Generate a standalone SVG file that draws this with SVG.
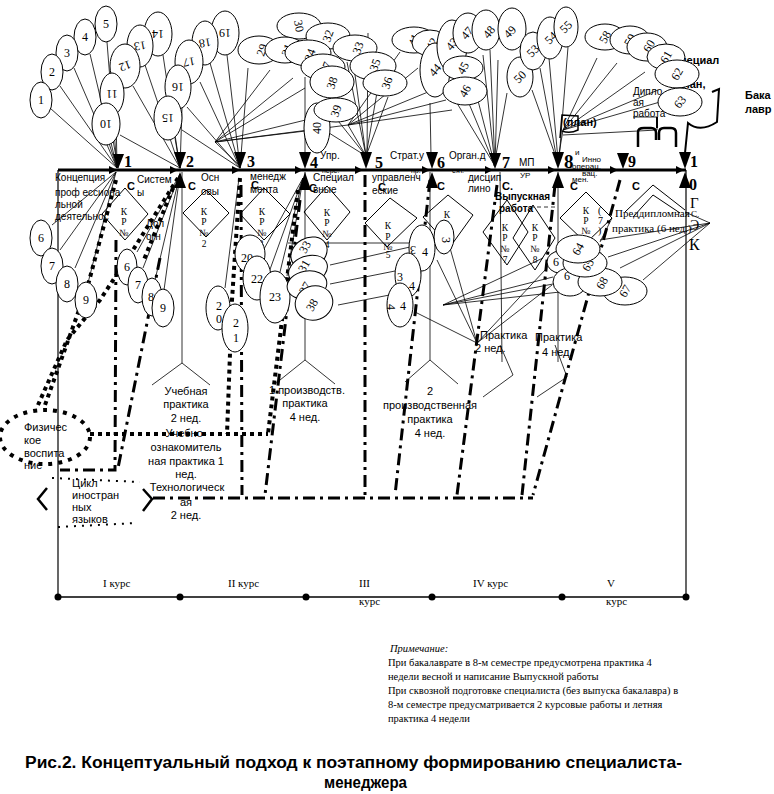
<svg xmlns="http://www.w3.org/2000/svg" width="774" height="794" viewBox="0 0 774 794">
<style>
.b{fill:#fff;stroke:#000;stroke-width:1}
.n{font-family:"Liberation Serif",serif;font-size:12px;text-anchor:middle}
.l{stroke:#000;stroke-width:0.8;fill:none}
.m{stroke:#000;stroke-width:3;fill:none}
.dd{stroke:#000;stroke-width:3;fill:none;stroke-dasharray:12 5 3 5}
.dt{stroke:#000;stroke-width:4;fill:none;stroke-dasharray:4 4}
.dh{stroke:#000;stroke-width:2;fill:none;stroke-dasharray:2 6}
.s{font-family:"Liberation Sans",Arial,sans-serif;font-size:10px}
.s8{font-family:"Liberation Sans",Arial,sans-serif;font-size:8px}
.k{font-family:"Liberation Serif",serif;font-size:9.5px;text-anchor:middle}
.mn{font-family:"Liberation Serif",serif;font-size:16px;font-weight:bold}
.bc{font-family:"Liberation Sans",Arial,sans-serif;font-size:11px;font-weight:bold}
.c{font-family:"Liberation Sans",Arial,sans-serif;font-size:11px;text-anchor:middle}
.nt{font-family:"Liberation Serif",serif;font-size:10.5px}
.dm{fill:none;stroke:#000;stroke-width:1}
.tri{fill:#000}
</style>
<rect width="774" height="794" fill="#fff"/>

<g id="top-right-texts">
<text class="bc" x="672" y="64">Специал</text>
<text class="bc" x="676" y="88">план,</text>
<text class="bc" x="745" y="99">Бака</text>
<text class="bc" x="745" y="113">лавр</text>
</g>

<g id="connectors">
<line class="l" x1="58" y1="170" x2="58" y2="597" style="stroke-width:1.2"/>
<line class="l" x1="686" y1="170" x2="686" y2="597" style="stroke-width:1.2"/>
<line class="l" x1="58" y1="597" x2="686" y2="597" style="stroke-width:1.5"/>
<line class="l" x1="182" y1="172" x2="182" y2="363"/>
<polyline class="l" points="152,385 182,363 210,385"/>
<line class="l" x1="305" y1="172" x2="305" y2="360"/>
<polyline class="l" points="275,384 305,360 335,384"/>
<line class="l" x1="430" y1="172" x2="430" y2="360"/>
<polyline class="l" points="405,382 430,360 458,384"/>
<line class="l" x1="500" y1="172" x2="502" y2="362"/>
<polyline class="l" points="500,345 513,375 483,397"/>
<line class="l" x1="558" y1="172" x2="558" y2="362"/>
<polyline class="l" points="555,345 567,377 537,397"/>

<line class="l" x1="50" y1="108" x2="117" y2="168"/>
<line class="l" x1="60" y1="86" x2="117" y2="168"/>
<line class="l" x1="74" y1="68" x2="117" y2="168"/>
<line class="l" x1="90" y1="54" x2="117" y2="168"/>
<line class="l" x1="107" y1="42" x2="117" y2="168"/>
<line class="l" x1="108" y1="140" x2="117" y2="168"/>
<line class="l" x1="113" y1="140" x2="118" y2="168"/>
<line class="l" x1="116" y1="112" x2="117" y2="168"/>
<line class="l" x1="120" y1="135" x2="180" y2="168"/>
<line class="l" x1="133" y1="86" x2="180" y2="168"/>
<line class="l" x1="145" y1="65" x2="180" y2="168"/>
<line class="l" x1="163" y1="55" x2="180" y2="168"/>
<line class="l" x1="175" y1="138" x2="180" y2="168"/>
<line class="l" x1="182" y1="108" x2="180" y2="168"/>
<line class="l" x1="182" y1="130" x2="240" y2="168"/>
<line class="l" x1="187" y1="107" x2="240" y2="168"/>
<line class="l" x1="200" y1="82" x2="240" y2="168"/>
<line class="l" x1="210" y1="63" x2="240" y2="168"/>
<line class="l" x1="227" y1="55" x2="240" y2="168"/>
<line class="l" x1="248" y1="68" x2="240" y2="168"/>
<line class="l" x1="215" y1="142" x2="240" y2="166"/>
<line class="l" x1="215" y1="142" x2="270" y2="70"/>
<line class="l" x1="215" y1="142" x2="293" y2="78"/>
<line class="l" x1="215" y1="142" x2="305" y2="88"/>
<line class="l" x1="215" y1="142" x2="318" y2="117"/>
<line class="l" x1="215" y1="142" x2="330" y2="128"/>
<line class="l" x1="215" y1="142" x2="348" y2="125"/>
<line class="l" x1="305" y1="77" x2="305" y2="156"/>
<line class="l" x1="347" y1="62" x2="366" y2="156"/>
<line class="l" x1="353" y1="60" x2="366" y2="156"/>
<line class="l" x1="368" y1="33" x2="367" y2="156"/>
<line class="l" x1="380" y1="75" x2="366" y2="156"/>
<line class="l" x1="388" y1="97" x2="366" y2="156"/>
<line class="l" x1="327" y1="107" x2="366" y2="156"/>
<line class="l" x1="313" y1="123" x2="366" y2="156"/>
<line class="l" x1="348" y1="125" x2="366" y2="156"/>
<line class="l" x1="348" y1="125" x2="400" y2="52"/>
<line class="l" x1="348" y1="125" x2="418" y2="68"/>
<line class="l" x1="348" y1="125" x2="428" y2="92"/>
<line class="l" x1="348" y1="125" x2="446" y2="100"/>
<line class="l" x1="348" y1="125" x2="452" y2="110"/>
<line class="l" x1="430" y1="103" x2="431" y2="156"/>
<line class="l" x1="443" y1="80" x2="495" y2="166"/>
<line class="l" x1="460" y1="82" x2="495" y2="166"/>
<line class="l" x1="470" y1="70" x2="495" y2="166"/>
<line class="l" x1="483" y1="55" x2="495" y2="166"/>
<line class="l" x1="490" y1="50" x2="495" y2="166"/>
<line class="l" x1="498" y1="60" x2="495" y2="166"/>
<line class="l" x1="507" y1="93" x2="494" y2="166"/>
<line class="l" x1="532" y1="90" x2="557" y2="160"/>
<line class="l" x1="540" y1="68" x2="557" y2="160"/>
<line class="l" x1="549" y1="58" x2="558" y2="160"/>
<line class="l" x1="568" y1="47" x2="559" y2="160"/>
<line class="l" x1="563" y1="130" x2="597" y2="58"/>
<line class="l" x1="563" y1="130" x2="617" y2="63"/>
<line class="l" x1="563" y1="130" x2="645" y2="72"/>
<line class="l" x1="563" y1="130" x2="658" y2="90"/>
<line class="l" x1="563" y1="130" x2="660" y2="102"/>
<polyline class="l" points="563,135 657,130 657,117 633,117"/>
<line class="l" x1="563" y1="130" x2="558" y2="160"/>

<line class="l" x1="52" y1="225" x2="116" y2="172"/>
<line class="l" x1="60" y1="250" x2="116" y2="172"/>
<line class="l" x1="75" y1="268" x2="116" y2="172"/>
<line class="l" x1="88" y1="283" x2="116" y2="172"/>
<line class="l" x1="137" y1="252" x2="180" y2="174"/>
<line class="l" x1="143" y1="268" x2="180" y2="174"/>
<line class="l" x1="155" y1="280" x2="180" y2="174"/>
<line class="l" x1="164" y1="290" x2="180" y2="174"/>
<line class="l" x1="225" y1="288" x2="239" y2="178"/>
<line class="l" x1="303" y1="178" x2="258" y2="260"/>
<line class="l" x1="303" y1="178" x2="268" y2="275"/>
<line class="l" x1="303" y1="178" x2="280" y2="272"/>
<line class="l" x1="303" y1="178" x2="287" y2="276"/>
<line class="l" x1="330" y1="265" x2="410" y2="247"/>
<line class="l" x1="330" y1="284" x2="410" y2="268"/>
<line class="l" x1="338" y1="305" x2="405" y2="292"/>
<line class="l" x1="288" y1="243" x2="412" y2="243"/>
<line class="l" x1="415" y1="312" x2="477" y2="343"/>
<line class="l" x1="450" y1="248" x2="477" y2="343"/>
<line class="l" x1="437" y1="260" x2="477" y2="343"/>
<line class="l" x1="545" y1="270" x2="477" y2="343"/>
<line class="l" x1="552" y1="285" x2="477" y2="343"/>
<line class="l" x1="543" y1="258" x2="443" y2="305"/>
<line class="l" x1="553" y1="277" x2="443" y2="305"/>
<line class="l" x1="553" y1="284" x2="443" y2="305"/>
<line class="l" x1="560" y1="292" x2="443" y2="305"/>
<line class="l" x1="600" y1="240" x2="710" y2="223"/>
<line class="l" x1="608" y1="257" x2="710" y2="223"/>
<line class="l" x1="620" y1="268" x2="710" y2="223"/>
<line class="l" x1="643" y1="280" x2="710" y2="223"/>
<line class="l" x1="685" y1="212" x2="710" y2="223"/>
<line class="l" x1="530" y1="207" x2="555" y2="207" style="stroke-dasharray:4 3"/>
<line class="l" x1="612" y1="218" x2="600" y2="242"/>

<polyline class="dd" points="116,240 115,470 60,470"/>
<line class="dd" x1="160" y1="258" x2="118" y2="468"/>
<line class="dd" x1="241" y1="185" x2="242" y2="495"/>
<line class="dd" x1="300" y1="200" x2="265" y2="495"/>
<line class="dd" x1="365" y1="175" x2="365" y2="498"/>
<line class="dd" x1="430" y1="180" x2="395" y2="495"/>
<line class="dd" x1="497" y1="185" x2="457" y2="495"/>
<line class="dd" x1="555" y1="185" x2="522" y2="495"/>
<line class="dd" x1="620" y1="180" x2="533" y2="495"/>
<line class="dd" x1="153" y1="498" x2="533" y2="498"/>

<polyline class="dt" points="116,180 88,285 45,405"/>
<polyline class="dt" points="178,178 133,250 100,300 67,340 38,405"/>
<line class="dt" x1="173" y1="188" x2="143" y2="262"/>
<polyline class="dt" points="240,178 232,300 227,434"/>
<polyline class="dt" points="298,190 282,320 268,434"/>
<line class="dt" x1="90" y1="434" x2="268" y2="434"/>
</g>

<g id="hidden-line-texts">
<text class="s8" x="322" y="173" style="font-size:7px">пере.</text>
<text class="s8" x="411" y="173" style="font-size:7px">пр.</text>
<text class="s8" x="452" y="173" style="font-size:7px">еят.</text>
</g>

<g id="main-line">
<line class="m" x1="58" y1="170" x2="686" y2="170"/>
<g class="tri">
<polygon points="109,166 117,170 109,174"/>
<polygon points="170,166 178,170 170,174"/>
<polygon points="232,166 240,170 232,174"/>
<polygon points="295,166 303,170 295,174"/>
<polygon points="355,166 363,170 355,174"/>
<polygon points="422,166 430,170 422,174"/>
<polygon points="485,166 493,170 485,174"/>
<polygon points="548,166 556,170 548,174"/>
<polygon points="610,166 618,170 610,174"/>
<polygon points="676,166 684,170 676,174"/>
<polygon points="113,154 124,154 118,169"/>
<polygon points="174,152 186,152 180,169"/>
<polygon points="234,152 246,152 240,169"/>
<polygon points="299,152 311,152 305,169"/>
<polygon points="360,152 372,152 366,169"/>
<polygon points="426,152 438,152 432,169"/>
<polygon points="489,153 501,153 495,169"/>
<polygon points="552,152 564,152 558,169"/>
<polygon points="617,153 629,153 623,169"/>
<polygon points="679,152 691,152 685,169"/>
<polygon points="174,188 186,188 180,172"/>
<polygon points="299,190 311,190 305,172"/>
<polygon points="426,188 438,188 432,172"/>
<polygon points="552,188 564,188 558,172"/>
<polygon points="679,188 691,188 685,172"/>
</g>
<g class="mn">
<text x="124" y="167">1</text>
<text x="186" y="167">2</text>
<text x="247" y="167">3</text>
<text x="310" y="168">4</text>
<text x="375" y="168">5</text>
<text x="437" y="168">6</text>
<text x="502" y="168">7</text>
<text x="564" y="168" style="font-size:19px">8</text>
<text x="628" y="167">9</text>
<text x="690" y="167">1</text>
<text x="689" y="190">0</text>
</g>
</g>

<g id="line-labels">
<text class="s" x="55" y="181">Концепция</text>
<text class="s" x="55" y="196">проф ессиона</text>
<text class="s" x="55" y="208">льной</text>
<text class="s" x="55" y="220">деятельнос</text>
<text class="s" x="137" y="183">Систем</text>
<text class="s" x="137" y="196">ы</text>
<text class="bc" x="127" y="190">С</text>
<text class="s" x="146" y="227">Дол</text>
<text class="s" x="146" y="240">огн</text>
<text class="s" x="201" y="181">Осн</text>
<text class="s" x="201" y="195">овы</text>
<text class="bc" x="188" y="190">С</text>
<text class="s" x="250" y="180">менедж</text>
<text class="bc" x="251" y="189">С</text>
<text class="s" x="250" y="193">мента</text>
<text class="s" x="320" y="159">Упр.</text>
<text class="s" x="313" y="181">Специал</text>
<text class="bc" x="309" y="192">С</text>
<text class="s" x="313" y="193">вные</text>
<text class="s" x="390" y="159">Страт.у</text>
<text class="s" x="372" y="181">управленч</text>
<text class="bc" x="378" y="191">С</text>
<text class="s" x="372" y="194">еские</text>
<text class="s" x="449" y="159">Орган.д</text>
<text class="bc" x="437" y="190">С</text>
<text class="s" x="468" y="181">дисцип</text>
<text class="s" x="468" y="192">лино</text>
<text class="bc" x="502" y="190">С.</text>
<text class="bc" x="495" y="200" style="font-size:10px">Выпускная</text>
<text class="bc" x="499" y="212" style="font-size:10px">работа</text>
<text class="s" x="519" y="166">МП</text>
<text class="s8" x="520" y="178">УР</text>
<text class="s8" x="575" y="155">и</text>
<text class="s8" x="582" y="162">Инно</text>
<text class="s8" x="572" y="169">операц.</text>
<text class="s8" x="582" y="176">вац.</text>
<text class="s8" x="572" y="182">мен.</text>
<text class="bc" x="570" y="190">С</text>
<text class="bc" x="632" y="190">С</text>
<text class="bc" x="563" y="126">(план)</text>
<text class="s" x="633" y="95">Дипло</text>
<text class="s" x="633" y="106">ая</text>
<text class="s" x="633" y="117">работа</text>
<text class="nt" x="598" y="214" style="font-size:10px">(</text>
<text class="nt" x="598" y="224" style="font-size:10px">7</text>
<text class="nt" x="598" y="234" style="font-size:10px">)</text>
<text class="nt" x="600" y="245" style="font-size:10px">,</text>
<text class="nt" x="615" y="217" style="font-size:11px">Преддипломная</text>
<text class="nt" x="612" y="232" style="font-size:11px">практика (6 нед.)</text>
<text class="nt" x="690" y="208" style="font-size:15px">Г</text>
<text class="nt" x="691" y="217" style="font-size:9px">С.</text>
<text class="nt" x="690" y="230" style="font-size:14px">Э</text>
<text class="nt" x="689" y="250" style="font-size:16px">К</text>
</g>

<g id="diamonds">
<g id="krn1"><polygon class="dm" points="125,188 148,214 125,240 102,214"/>
<text class="k" x="124" y="215">К</text><text class="k" x="124" y="225">Р</text><text class="k" x="124" y="236">№</text></g>
<g id="krn2"><polygon class="dm" points="206,190 229,213 206,237 183,213"/>
<text class="k" x="204" y="215">К</text><text class="k" x="204" y="225">Р</text><text class="k" x="204" y="236">№</text><text class="k" x="204" y="247">2</text></g>
<g id="krn3"><polygon class="dm" points="264,188 290,214 264,240 240,214"/>
<text class="k" x="262" y="215">К</text><text class="k" x="262" y="225">Р</text><text class="k" x="262" y="236">№</text><text class="k" x="261" y="247">3</text></g>
<g id="krn4"><polygon class="dm" points="327,186 350,212 327,240 304,212"/>
<text class="k" x="327" y="216">К</text><text class="k" x="327" y="226">Р</text><text class="k" x="327" y="237">№</text><text class="k" x="327" y="248">4</text></g>
<g id="krn5"><polygon class="dm" points="390,198 417,218 387,247 365,223"/>
<text class="k" x="388" y="229">К</text><text class="k" x="388" y="240">Р</text><text class="k" x="388" y="250">№</text><text class="k" x="388" y="258">5</text></g>
<g id="krn6"><polygon class="dm" points="448,195 473,215 450,247 423,217"/>
<text class="k" x="447" y="218">К</text><text class="k" x="447" y="228">Р</text><text class="k" x="449" y="239">№</text><text class="k" x="447" y="252">6</text></g>
<g id="krn7"><polygon class="dm" points="507,200 528,232 507,265 483,232"/>
<text class="k" x="505" y="231">К</text><text class="k" x="505" y="241">Р</text><text class="k" x="505" y="252">№</text><text class="k" x="505" y="263">7</text></g>
<g id="krn8"><polygon class="dm" points="533,205 555,238 535,270 513,238"/>
<text class="k" x="535" y="231">К</text><text class="k" x="535" y="241">Р</text><text class="k" x="535" y="252">№</text><text class="k" x="535" y="263">8</text></g>
<g id="krn9"><polygon class="dm" points="586,192 612,218 586,243 560,218"/>
<text class="k" x="586" y="214">К</text><text class="k" x="586" y="224">Р</text><text class="k" x="586" y="234">№</text><text class="k" x="587" y="248">9</text></g>
<g id="roof10"><polyline class="dm" points="625,212 653,185 685,210"/><polyline class="dm" points="633,217 653,195 680,213"/></g>
</g>

<g id="balloons-top-left">
<g id="b19"><ellipse class="b" cx="225" cy="33" rx="14" ry="22"/><text class="n" transform="rotate(180 225 33)" x="225" y="37">19</text></g>
<g id="b18"><ellipse class="b" cx="205" cy="43" rx="13" ry="22"/><text class="n" transform="rotate(170 205 43)" x="205" y="47">18</text></g>
<g id="b17"><ellipse class="b" cx="189" cy="62" rx="14" ry="22"/><text class="n" transform="rotate(170 189 62)" x="189" y="66">17</text></g>
<g id="b16"><ellipse class="b" cx="178" cy="87" rx="13" ry="22"/><text class="n" transform="rotate(180 178 87)" x="178" y="91">16</text></g>
<g id="b15"><ellipse class="b" cx="168" cy="118" rx="14" ry="22"/><text class="n" transform="rotate(180 168 118)" x="168" y="122">15</text></g>
<g id="b14"><ellipse class="b" cx="158" cy="34" rx="14" ry="22"/><text class="n" transform="rotate(180 158 34)" x="158" y="38">14</text></g>
<g id="b13"><ellipse class="b" cx="140" cy="46" rx="13" ry="21"/><text class="n" transform="rotate(170 140 46)" x="140" y="50">13</text></g>
<g id="b12"><ellipse class="b" cx="125" cy="66" rx="15" ry="22"/><text class="n" transform="rotate(160 125 66)" x="125" y="70">12</text></g>
<g id="b11"><ellipse class="b" cx="112" cy="94" rx="12" ry="21"/><text class="n" transform="rotate(180 112 94)" x="112" y="98">11</text></g>
<g id="b10"><ellipse class="b" cx="106" cy="124" rx="14" ry="21"/><text class="n" transform="rotate(180 106 124)" x="106" y="128">10</text></g>
<g id="b5"><ellipse class="b" cx="106" cy="24" rx="11" ry="18"/><text class="n" x="106" y="28">5</text></g>
<g id="b4"><ellipse class="b" cx="85" cy="37" rx="11" ry="18"/><text class="n" x="85" y="41">4</text></g>
<g id="b3"><ellipse class="b" cx="67" cy="53" rx="11" ry="18"/><text class="n" x="67" y="57">3</text></g>
<g id="b2"><ellipse class="b" cx="52" cy="72" rx="11" ry="18"/><text class="n" x="52" y="76">2</text></g>
<g id="b1"><ellipse class="b" cx="41" cy="100" rx="11" ry="18"/><text class="n" x="41" y="104">1</text></g>
</g>

<g id="balloons-top-mid">
<g id="b30"><ellipse class="b" cx="299" cy="26" rx="22" ry="13"/><text class="n" transform="rotate(80 299 26)" x="299" y="30">30</text></g>
<g id="b32"><ellipse class="b" cx="328" cy="36" rx="22" ry="13"/><text class="n" transform="rotate(-70 328 36)" x="328" y="40">32</text></g>
<g id="b29"><ellipse class="b" cx="259" cy="50" rx="21" ry="14"/><text class="n" transform="rotate(-70 262 50)" x="262" y="54">29</text></g>
<g id="b31"><ellipse class="b" cx="285" cy="50" rx="20" ry="13"/><text class="n" transform="rotate(-70 287 50)" x="287" y="54">31</text></g>
<g id="b34"><ellipse class="b" cx="308" cy="53" rx="23" ry="13"/><text class="n" transform="rotate(-70 310 55)" x="310" y="59">34</text></g>
<g id="b33"><ellipse class="b" cx="355" cy="48" rx="22" ry="13"/><text class="n" transform="rotate(-70 358 48)" x="358" y="52">33</text></g>
<g id="b37"><ellipse class="b" cx="323" cy="67" rx="22" ry="13"/><text class="n" transform="rotate(-70 326 68)" x="326" y="72">37</text></g>
<g id="b35"><ellipse class="b" cx="373" cy="66" rx="23" ry="14"/><text class="n" transform="rotate(-70 375 65)" x="375" y="69">35</text></g>
<g id="b38"><ellipse class="b" cx="332" cy="82" rx="22" ry="16"/><text class="n" transform="rotate(-70 332 83)" x="332" y="87">38</text></g>
<g id="b36"><ellipse class="b" cx="385" cy="83" rx="22" ry="13"/><text class="n" transform="rotate(-70 387 83)" x="387" y="87">36</text></g>
<g id="b40"><ellipse class="b" cx="317" cy="128" rx="13" ry="25"/><text class="n" transform="rotate(-90 317 128)" x="317" y="132">40</text></g>
<g id="b39"><ellipse class="b" cx="336" cy="110" rx="22" ry="12"/><text class="n" transform="rotate(-70 336 111)" x="336" y="115">39</text></g>
</g>

<g id="balloons-top-right">
<g id="b41"><ellipse class="b" cx="414" cy="40" rx="22" ry="13"/><text class="n" transform="rotate(-70 414 40)" x="414" y="44">41</text></g>
<g id="b42"><ellipse class="b" cx="430" cy="43" rx="18" ry="13"/><text class="n" transform="rotate(-60 432 44)" x="432" y="48">42</text></g>
<g id="b44"><ellipse class="b" cx="435" cy="70" rx="15" ry="27"/><text class="n" transform="rotate(-50 435 70)" x="435" y="74">44</text></g>
<g id="b43"><ellipse class="b" cx="452" cy="46" rx="15" ry="26"/><text class="n" transform="rotate(-50 452 44)" x="452" y="48">43</text></g>
<g id="b47"><ellipse class="b" cx="468" cy="33" rx="15" ry="20"/><text class="n" transform="rotate(-50 467 33)" x="467" y="37">47</text></g>
<g id="b48"><ellipse class="b" cx="486" cy="30" rx="14" ry="20"/><text class="n" transform="rotate(-50 489 32)" x="489" y="36">48</text></g>
<g id="b45"><ellipse class="b" cx="463" cy="68" rx="20" ry="12"/><text class="n" transform="rotate(-60 463 68)" x="463" y="72">45</text></g>
<g id="b46"><ellipse class="b" cx="465" cy="91" rx="22" ry="14"/><text class="n" transform="rotate(-60 465 91)" x="465" y="95">46</text></g>
<g id="b49"><ellipse class="b" cx="512" cy="29" rx="14" ry="21"/><text class="n" transform="rotate(-45 510 32)" x="510" y="36">49</text></g>
<g id="b50"><ellipse class="b" cx="520" cy="77" rx="13" ry="20"/><text class="n" transform="rotate(-45 520 77)" x="520" y="81">50</text></g>
<g id="b53"><ellipse class="b" cx="533" cy="51" rx="13" ry="19"/><text class="n" transform="rotate(-45 533 51)" x="533" y="55">53</text></g>
<g id="b54"><ellipse class="b" cx="550" cy="38" rx="13" ry="21"/><text class="n" transform="rotate(-45 551 38)" x="551" y="42">54</text></g>
<g id="b55"><ellipse class="b" cx="566" cy="27" rx="12" ry="20"/><text class="n" transform="rotate(-45 566 27)" x="566" y="31">55</text></g>
<g id="b58"><ellipse class="b" cx="605" cy="37" rx="20" ry="13"/><text class="n" transform="rotate(-60 605 37)" x="605" y="41">58</text></g>
<g id="b59"><ellipse class="b" cx="630" cy="40" rx="20" ry="14"/><text class="n" transform="rotate(-60 630 40)" x="630" y="44">59</text></g>
<g id="b60"><ellipse class="b" cx="647" cy="47" rx="20" ry="14"/><text class="n" transform="rotate(-60 649 46)" x="649" y="50">60</text></g>
<g id="b61"><ellipse class="b" cx="666" cy="57" rx="19" ry="13"/><text class="n" transform="rotate(-60 666 57)" x="666" y="61">61</text></g>
<g id="b62"><ellipse class="b" cx="677" cy="74" rx="22" ry="14"/><text class="n" transform="rotate(-60 677 74)" x="677" y="78">62</text></g>
<g id="b63"><ellipse class="b" cx="680" cy="102" rx="22" ry="14"/><text class="n" transform="rotate(-50 680 102)" x="680" y="106">63</text></g>
</g>

<g id="flags">
<path class="m" style="stroke-width:2.5" d="M638,147 L638,132 Q638,128 644,128 L651,128 Q656,128 656,133 L656,140 M659,140 L659,133 Q659,128 664,128 L671,128 Q676,128 676,133 L676,147"/>
<line class="m" style="stroke-width:2" x1="657" y1="117" x2="657" y2="128"/>
<path class="m" style="stroke-width:2" d="M685,153 L688,123 Q700,133 717,122 L719,89 L712,92"/>
<path class="m" style="stroke-width:1.5" d="M560,138 L562,115 L578,116 L578,130 Q570,134 562,131"/>
</g>

<g id="balloons-bottom">
<g id="b6a"><ellipse class="b" cx="41" cy="238" rx="11" ry="18"/><text class="n" x="41" y="242">6</text></g>
<g id="b7a"><ellipse class="b" cx="52" cy="266" rx="11" ry="18"/><text class="n" x="52" y="270">7</text></g>
<g id="b8a"><ellipse class="b" cx="67" cy="284" rx="11" ry="18"/><text class="n" x="67" y="288">8</text></g>
<g id="b9a"><ellipse class="b" cx="86" cy="300" rx="11" ry="18"/><text class="n" x="86" y="304">9</text></g>
<g id="b6b"><ellipse class="b" cx="127" cy="267" rx="10" ry="18"/><text class="n" x="127" y="271">6</text></g>
<g id="b7b"><ellipse class="b" cx="138" cy="285" rx="10" ry="18"/><text class="n" x="138" y="289">7</text></g>
<g id="b8b"><ellipse class="b" cx="152" cy="297" rx="10" ry="19"/><text class="n" x="151" y="301">8</text></g>
<g id="b9b"><ellipse class="b" cx="163" cy="308" rx="11" ry="19"/><text class="n" x="163" y="312">9</text></g>
<g id="b20a"><ellipse class="b" cx="218" cy="308" rx="12" ry="22"/><text class="n" x="219" y="310">2</text><text class="n" x="219" y="323">0</text></g>
<g id="b21"><ellipse class="b" cx="235" cy="328" rx="13" ry="24"/><text class="n" x="236" y="327">2</text><text class="n" x="236" y="342">1</text></g>
<g id="b20b"><ellipse class="b" cx="250" cy="254" rx="15" ry="19"/><text class="n" x="247" y="262">20</text></g>
<g id="b22"><ellipse class="b" cx="257" cy="278" rx="14" ry="22"/><text class="n" x="257" y="283">22</text></g>
<g id="b23"><ellipse class="b" cx="275" cy="297" rx="15" ry="26"/><text class="n" x="275" y="301">23</text></g>
<g id="b33b"><ellipse class="b" cx="309" cy="253" rx="19" ry="15" transform="rotate(-30 309 253)"/><text class="n" transform="rotate(-60 305 247)" x="305" y="251">33</text></g>
<g id="b31b"><ellipse class="b" cx="308" cy="270" rx="20" ry="14" transform="rotate(-20 308 270)"/><text class="n" transform="rotate(-60 304 266)" x="304" y="270">31</text></g>
<g id="b37b"><ellipse class="b" cx="307" cy="285" rx="20" ry="14" transform="rotate(-10 307 285)"/><text class="n" transform="rotate(-60 305 288)" x="305" y="292">37</text></g>
<g id="b38b"><ellipse class="b" cx="314" cy="303" rx="19" ry="17" transform="rotate(-20 314 303)"/><text class="n" transform="rotate(-60 312 305)" x="312" y="309">38</text></g>
<g id="b3c"><ellipse class="b" cx="444" cy="237" rx="10" ry="17"/><text class="n" transform="rotate(90 446 240)" x="446" y="244">3</text></g>
<g id="b4a"><ellipse class="b" cx="422" cy="248" rx="13" ry="23"/><text class="n" transform="rotate(180 413 250)" x="413" y="254">3</text><text class="n" x="425" y="256">4</text></g>
<g id="b4b"><ellipse class="b" cx="408" cy="275" rx="13" ry="22"/><text class="n" x="400" y="281">3</text><text class="n" x="412" y="290">4</text></g>
<g id="b4c"><ellipse class="b" cx="400" cy="305" rx="13" ry="22"/><text class="n" transform="rotate(90 391 307)" x="391" y="311">4</text><text class="n" x="403" y="310">4</text></g>
<g id="b66"><ellipse class="b" cx="560" cy="262" rx="13" ry="11"/><text class="n" x="556" y="266">6</text></g>
<g id="b67"><ellipse class="b" cx="625" cy="291" rx="22" ry="14"/><text class="n" transform="rotate(-60 625 291)" x="625" y="295">67</text></g>
<g id="b69"><ellipse class="b" cx="570" cy="282" rx="17" ry="14"/><text class="n" x="567" y="280">6</text></g>
<g id="b68"><ellipse class="b" cx="600" cy="282" rx="22" ry="14"/><text class="n" transform="rotate(-60 602 283)" x="602" y="287">68</text></g>
<g id="b65"><ellipse class="b" cx="585" cy="263" rx="22" ry="14"/><text class="n" transform="rotate(-60 588 265)" x="588" y="269">65</text></g>
<g id="b64"><ellipse class="b" cx="578" cy="249" rx="22" ry="14"/><text class="n" transform="rotate(-60 578 249)" x="578" y="253">64</text></g>
</g>

<g id="practice-labels">
<text class="c" x="186" y="395">Учебная</text>
<text class="c" x="186" y="408">практика</text>
<text class="c" x="186" y="422">2 нед.</text>
<text class="c" x="186" y="437">Учебно-</text>
<text class="c" x="186" y="451">ознакомитель</text>
<text class="c" x="186" y="465">ная практика 1</text>
<text class="c" x="186" y="478">нед.</text>
<text class="c" x="187" y="491">Технологическ</text>
<text class="c" x="186" y="506">ая</text>
<text class="c" x="186" y="519">2 нед.</text>
<text class="c" x="307" y="394">1 производств.</text>
<text class="c" x="305" y="407">практика</text>
<text class="c" x="305" y="421">4 нед.</text>
<text class="c" x="430" y="395">2</text>
<text class="c" x="430" y="409">производственная</text>
<text class="c" x="430" y="423">практика</text>
<text class="c" x="430" y="437">4 нед.</text>
<text class="s" x="480" y="339" style="font-size:11px">Практика</text>
<text class="s" x="475" y="352" style="font-size:11px">2 нед.</text>
<text class="s" x="535" y="341" style="font-size:11px">Практика</text>
<text class="s" x="542" y="356" style="font-size:11px">4 нед.</text>
</g>

<g id="phys-ed">
<ellipse class="dt" cx="45" cy="437" rx="45" ry="27" style="stroke-dasharray:4 6"/>
<text class="s" x="24" y="431" style="font-size:11px">Физичес</text>
<text class="s" x="24" y="444" style="font-size:11px">кое</text>
<text class="s" x="24" y="457" style="font-size:11px">воспита</text>
<text class="s" x="24" y="469" style="font-size:11px">ние</text>
</g>

<g id="languages">
<polyline class="m" style="stroke-width:2.5" points="47,488 38,499 47,510"/>
<polyline class="m" style="stroke-width:2.5" points="143,489 152,499 143,511"/>
<line class="dh" x1="52" y1="478" x2="140" y2="482"/>
<line class="dh" x1="58" y1="527" x2="137" y2="523"/>
<text class="s" x="72" y="487" style="font-size:11px">Цикл</text>
<text class="s" x="72" y="499" style="font-size:11px">иностран</text>
<text class="s" x="72" y="511" style="font-size:11px">ных</text>
<text class="s" x="72" y="523" style="font-size:11px">языков</text>
</g>

<g id="course-axis">
<g class="tri">
<circle cx="58" cy="597" r="3.5"/><circle cx="180" cy="597" r="3.5"/><circle cx="306" cy="597" r="3.5"/><circle cx="432" cy="597" r="3.5"/><circle cx="562" cy="597" r="3.5"/><circle cx="686" cy="597" r="3.5"/>
</g>
<g class="nt" style="font-size:11px">
<text x="103" y="587">I курс</text>
<text x="228" y="587">II курс</text>
<text x="359" y="587">III</text>
<text x="359" y="605">курс</text>
<text x="473" y="587">IV курс</text>
<text x="607" y="587">V</text>
<text x="606" y="605">курс</text>
</g>
</g>

<g id="note" class="nt">
<text x="390" y="652" style="font-style:italic">Примечание:</text>
<text x="388" y="666">При бакалаврате в 8-м семестре предусмотрена практика 4</text>
<text x="388" y="680">недели весной и написание Выпускной работы</text>
<text x="388" y="694">При сквозной подготовке специалиста (без выпуска бакалавра) в</text>
<text x="388" y="708">8-м семестре предусматривается 2 курсовые работы и летняя</text>
<text x="388" y="722">практика 4 недели</text>
</g>

<g id="caption" style="font-family:'Liberation Sans',Arial,sans-serif;font-size:16px;font-weight:bold">
<text x="25" y="768" textLength="657" lengthAdjust="spacingAndGlyphs">Рис.2. Концептуальный подход к поэтапному формированию специалиста-</text>
<text x="324" y="788" textLength="83" lengthAdjust="spacingAndGlyphs">менеджера</text>
</g>
</svg>
